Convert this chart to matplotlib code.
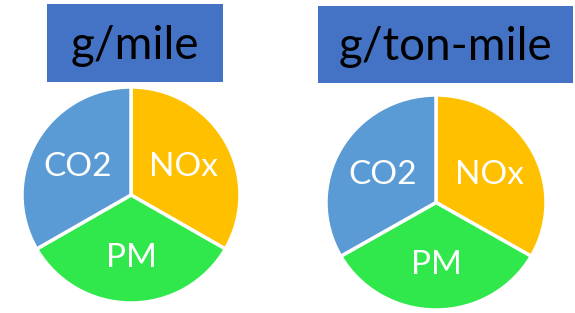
import numpy as np
import matplotlib
matplotlib.use("Agg")
import matplotlib.pyplot as plt
from matplotlib.patches import Rectangle

# Data
titles = ["g/mile", "g/ton-mile"]
pollutants = ["NOx", "PM", "CO2"]
shares_mile = [1, 1, 1]
shares_ton_mile = [1, 1, 1]
colors = ["#FFC000", "#30E84C", "#5B9BD5"]
box_color = "#4472C4"

W, H = 575, 313
fig = plt.figure(figsize=(W / 100, H / 100), dpi=100)
plt.rcParams['font.family'] = ['Lato', 'DejaVu Sans']

def px_rect(x0, y0, x1, y1):
    # pixel box (top-left origin) -> figure fraction [left, bottom, width, height]
    return [x0 / W, (H - y1) / H, (x1 - x0) / W, (y1 - y0) / H]

# title boxes (pixels)
boxes = [(47, 4, 223, 82), (318, 6, 573, 83)]
pie_boxes = [(22, 87, 240, 303), (326, 95, 546, 310)]
datasets = [shares_mile, shares_ton_mile]

for title, (bx0, by0, bx1, by1), pb, vals in zip(titles, boxes, pie_boxes, datasets):
    l, b, w, h = px_rect(bx0, by0, bx1, by1)
    fig.patches.append(Rectangle((l, b), w, h, transform=fig.transFigure,
                                 facecolor=box_color, edgecolor="none"))
    fig.text(l + w / 2, b + h / 2 - 0.008, title, ha="center", va="center",
             fontsize=33, color="black")

    ax = fig.add_axes(px_rect(*pb))
    wedges, _ = ax.pie(vals, colors=colors, startangle=90, counterclock=False,
                       wedgeprops=dict(edgecolor="white", linewidth=2.5))
    ax.set_aspect("auto")
    ax.set_xlim(-1, 1)
    ax.set_ylim(-1, 1)
    ax.axis("off")
    for wdg, name in zip(wedges, pollutants):
        ang = np.deg2rad((wdg.theta1 + wdg.theta2) / 2)
        d = 0.56
        ax.text(d * np.cos(ang), d * np.sin(ang) - 0.02, name, ha="center",
                va="center", color="white", fontsize=24)

fig.savefig("out.png", dpi=100)
